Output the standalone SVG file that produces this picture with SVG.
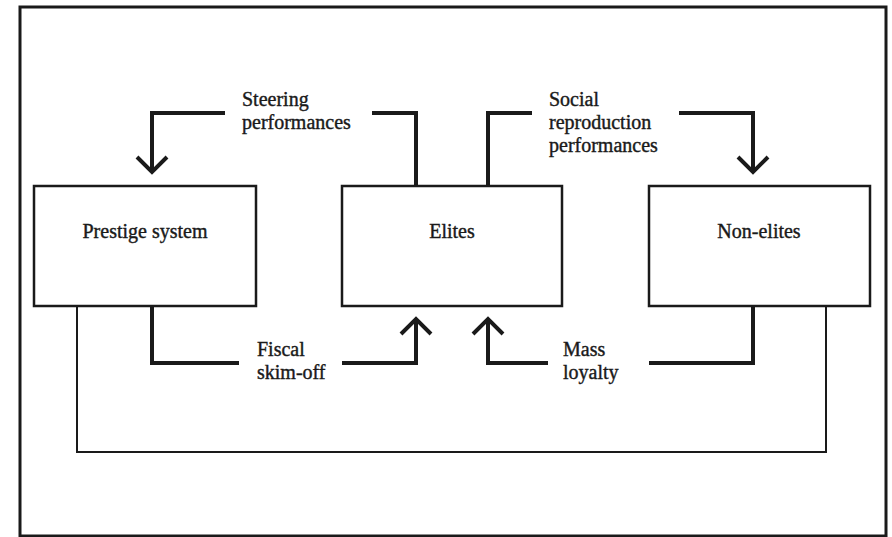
<svg xmlns="http://www.w3.org/2000/svg" width="892" height="537" viewBox="0 0 892 537">
<style>
.frame{fill:none;stroke:#1a1a1a;stroke-width:3}
.box{fill:#fff;stroke:#1a1a1a;stroke-width:2.5}
.flow{fill:none;stroke:#1a1a1a;stroke-width:4;stroke-linejoin:miter;stroke-linecap:butt}
.head{fill:none;stroke:#1a1a1a;stroke-width:4;stroke-linejoin:miter}
.thin{fill:none;stroke:#1a1a1a;stroke-width:2}
text{font-family:"Liberation Serif","Times New Roman",serif;font-size:20px;fill:#1a1a1a;stroke:#1a1a1a;stroke-width:0.4}
.c{text-anchor:middle}
</style>
<rect width="892" height="537" fill="#fff"/>
<rect class="frame" x="20" y="7" width="866" height="529"/>
<g id="connectors">
<path class="thin" d="M77 306 V452 H826 V306"/>
<path class="flow" d="M225 113 H152 V170"/>
<path class="head" d="M137 157 L152 172 L167 157"/>
<path class="flow" d="M372 113 H416 V186"/>
<path class="flow" d="M488 186 V113 H532"/>
<path class="flow" d="M679 113 H753 V170"/>
<path class="head" d="M738 157 L753 172 L768 157"/>
<path class="flow" d="M152 306 V363 H239"/>
<path class="flow" d="M342 363 H416 V321"/>
<path class="head" d="M401 334 L416 319 L431 334"/>
<path class="flow" d="M548 363 H488 V321"/>
<path class="head" d="M473 334 L488 319 L503 334"/>
<path class="flow" d="M649 363 H753 V306"/>
<text x="242" y="106">Steering</text>
<text x="242" y="129">performances</text>
<text x="549" y="106">Social</text>
<text x="549" y="129">reproduction</text>
<text x="549" y="152">performances</text>
<text x="257" y="356">Fiscal</text>
<text x="257" y="379">skim-off</text>
<text x="563" y="356">Mass</text>
<text x="563" y="379">loyalty</text>
</g>
<g id="prestige">
<rect class="box" x="34" y="186" width="222" height="120"/>
<text class="c" x="145" y="238">Prestige system</text>
</g>
<g id="elites">
<rect class="box" x="342" y="186" width="220" height="120"/>
<text class="c" x="452" y="238">Elites</text>
</g>
<g id="nonelites">
<rect class="box" x="649" y="186" width="221" height="120"/>
<text class="c" x="759" y="238">Non-elites</text>
</g>
</svg>
